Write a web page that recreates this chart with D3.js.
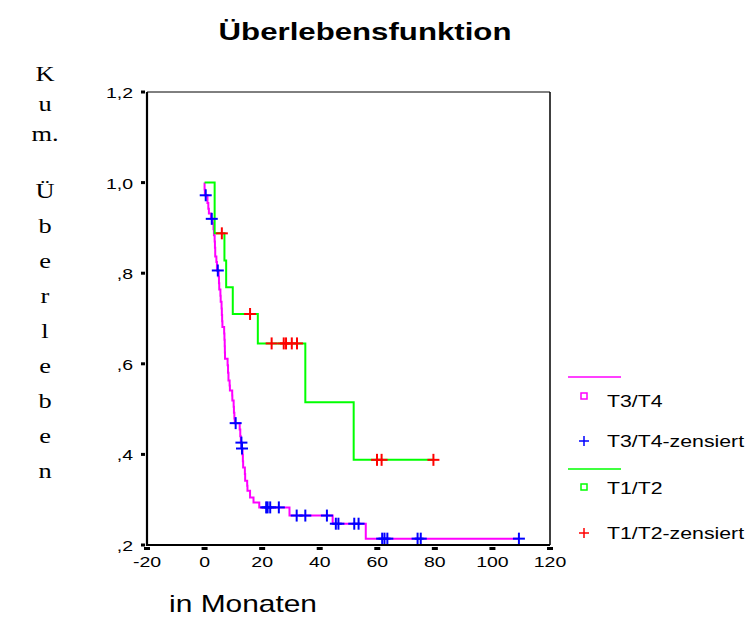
<!DOCTYPE html>
<html><head><meta charset="utf-8">
<script src="https://cdn.jsdelivr.net/npm/d3@7"></script>
<style>body{margin:0;background:#fff}svg{display:block}</style>
</head><body>
<svg id="chart" width="749" height="644"></svg>
<script>
// ---- data ----
const xTicks = [-20, 0, 20, 40, 60, 80, 100, 120];
const yTicks = [0.2, 0.4, 0.6, 0.8, 1.0, 1.2];
const yTickLabels = [",2", ",4", ",6", ",8", "1,0", "1,2"];
const yLabelChars = ["K","u","m.","Ü","b","e","r","l","e","b","e","n"];

// T3/T4: event times and survival after each event
const t34Times = [0,0.1,1.0,1.3,1.5,2.2,2.8,3.1,3.25,3.5,3.6,3.7,4.1,4.3,4.9,5.0,5.1,5.5,5.6,5.9,6.0,6.1,6.2,6.8,6.9,7.0,7.05,7.1,8.0,8.15,8.3,8.7,8.8,9.6,9.65,10.1,10.2,10.35,10.5,12.2,12.4,12.6,12.9,13.2,13.3,13.4,14.0,14.1,14.8,14.9,15.8,17.0,19.0,29.5,44.5,56.0];
const t34Surv  = [0.985,0.972,0.955,0.942,0.932,0.920,0.910,0.897,0.884,0.870,0.856,0.837,0.825,0.806,0.792,0.778,0.764,0.750,0.737,0.722,0.708,0.694,0.681,0.667,0.653,0.639,0.625,0.611,0.597,0.580,0.563,0.552,0.541,0.530,0.519,0.505,0.492,0.479,0.469,0.455,0.440,0.426,0.413,0.399,0.385,0.371,0.357,0.342,0.331,0.320,0.305,0.294,0.283,0.265,0.247,0.214];
const t34Cens  = [0.4,2.5,4.6,10.8,12.8,13.0,21.4,21.9,22.8,25.8,32.0,35.0,42.5,45.6,46.5,52.0,53.5,61.7,62.5,63.5,74.0,75.1,109.2];

// T1/T2
const t12Times = [3.5,6.9,7.5,9.8,18.5,35.0,51.8];
const t12Surv  = [0.888,0.828,0.769,0.710,0.645,0.515,0.388];
const t12Cens  = [6.0,15.8,23.3,27.5,28.3,30.3,32.1,59.9,61.5,79.5];

const legendItems = ["T3/T4","T3/T4-zensiert","T1/T2","T1/T2-zensiert"];

// ---- drawing ----
const svg = d3.select("#chart");
const sans = "'Liberation Sans', Arial, sans-serif";
const serif = "'Liberation Serif', 'Times New Roman', serif";
const SX = 1.3;

const x = d3.scaleLinear().domain([-20, 120]).range([147, 550]);
const y = d3.scaleLinear().domain([0.2, 1.2]).range([545, 92]);

function txt(str, px, py, size, anchor, opts = {}) {
  return svg.append("text")
    .attr("transform", `translate(${px},${py}) scale(${opts.sx || SX},1)`)
    .attr("text-anchor", anchor)
    .attr("font-family", opts.family || sans)
    .attr("font-size", size)
    .attr("font-weight", opts.weight || "normal")
    .attr("fill", opts.fill || "#000")
    .text(str);
}

// title
txt("Überlebensfunktion", 365, 40, 24, "middle", {weight: "bold"});

// frame
svg.append("line").attr("x1", x(-20)).attr("x2", x(120)).attr("y1", y(1.2)).attr("y2", y(1.2)).attr("stroke", "#000").attr("stroke-width", 1);
svg.append("line").attr("x1", x(120)).attr("x2", x(120)).attr("y1", y(1.2)).attr("y2", y(0.2)).attr("stroke", "#000").attr("stroke-width", 1.5);

// step curves
function stepPoints(times, surv, end) {
  const pts = [[0, 1]];
  times.forEach((t, i) => pts.push([t, surv[i]]));
  pts.push([end, surv[surv.length - 1]]);
  return pts;
}
function survAt(times, surv, t) {
  let s = 1;
  times.forEach((tt, i) => { if (tt <= t) s = surv[i]; });
  return s;
}
const line = d3.line().x(d => x(d[0])).y(d => y(d[1])).curve(d3.curveStepAfter);

svg.append("path").datum(stepPoints(t34Times, t34Surv, d3.max(t34Cens)))
  .attr("d", line).attr("fill", "none").attr("stroke", "#ff00ff").attr("stroke-width", 2);
svg.append("path").datum(stepPoints(t12Times, t12Surv, d3.max(t12Cens)))
  .attr("d", line).attr("fill", "none").attr("stroke", "#00ff00").attr("stroke-width", 2);

function crosses(cens, times, surv, color) {
  const g = svg.append("g").attr("stroke", color).attr("stroke-width", 2);
  cens.forEach(t => {
    const cx = x(t), cy = y(survAt(times, surv, t));
    g.append("line").attr("x1", cx - 6).attr("x2", cx + 6).attr("y1", cy).attr("y2", cy);
    g.append("line").attr("x1", cx).attr("x2", cx).attr("y1", cy - 6).attr("y2", cy + 6);
  });
}
crosses(t34Cens, t34Times, t34Surv, "#0000ff");
crosses(t12Cens, t12Times, t12Surv, "#ff0000");

// axes (left and bottom, thick)
svg.append("line").attr("x1", x(-20)).attr("x2", x(-20)).attr("y1", y(1.2)).attr("y2", y(0.2) + 1).attr("stroke", "#000").attr("stroke-width", 2.2);
svg.append("line").attr("x1", x(-20) - 1).attr("x2", x(120)).attr("y1", y(0.2)).attr("y2", y(0.2)).attr("stroke", "#000").attr("stroke-width", 2.2);

// x ticks
xTicks.forEach(v => {
  svg.append("rect").attr("x", x(v) - 3).attr("y", y(0.2) + 2).attr("width", 6).attr("height", 3).attr("fill", "#000");
  txt(String(v), x(v), 567, 15, "middle");
});
// y ticks
yTicks.forEach((v, i) => {
  svg.append("rect").attr("x", x(-20) - 6).attr("y", y(v) - 1.5).attr("width", 4).attr("height", 3).attr("fill", "#000");
  txt(yTickLabels[i], 133, y(v) + 6, 15, "end");
});

// y axis label (stacked serif characters; "Kum." then "Überleben")
yLabelChars.forEach((c, i) => {
  const by = i < 3 ? 81 + i * 30 : 198 + (i - 3) * 35;
  txt(c, 45, by, 22, "middle", {family: serif, sx: 1.2});
});

// x axis label
txt("in Monaten", 243, 612, 23, "middle");

// legend
const lg = svg.append("g");
const lx = 584;
lg.append("line").attr("x1", 568).attr("x2", 621).attr("y1", 377).attr("y2", 377).attr("stroke", "#ff00ff").attr("stroke-width", 1.5);
lg.append("rect").attr("x", lx - 3).attr("y", 396 - 3).attr("width", 6).attr("height", 6).attr("fill", "none").attr("stroke", "#ff00ff").attr("stroke-width", 1.5);
[[441, "#0000ff"], [533, "#ff0000"]].forEach(([cy, col]) => {
  lg.append("line").attr("x1", lx - 5).attr("x2", lx + 5).attr("y1", cy).attr("y2", cy).attr("stroke", col).attr("stroke-width", 1.5);
  lg.append("line").attr("x1", lx).attr("x2", lx).attr("y1", cy - 5).attr("y2", cy + 5).attr("stroke", col).attr("stroke-width", 1.5);
});
lg.append("line").attr("x1", 568).attr("x2", 621).attr("y1", 469).attr("y2", 469).attr("stroke", "#00ff00").attr("stroke-width", 1.5);
lg.append("rect").attr("x", lx - 3).attr("y", 487 - 3).attr("width", 6).attr("height", 6).attr("fill", "none").attr("stroke", "#00ff00").attr("stroke-width", 1.5);
[401, 441, 488, 533].forEach((cy, i) => txt(legendItems[i], 607, cy + 6, 16, "start", {sx: 1.33}));
</script>
</body></html>
